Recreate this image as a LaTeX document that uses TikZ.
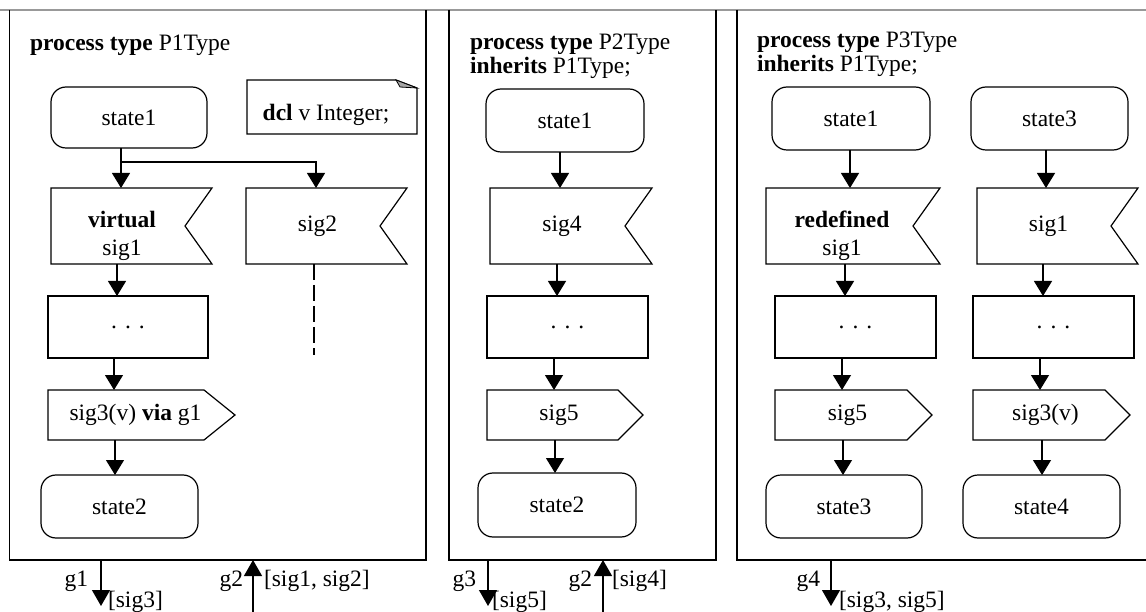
\documentclass[tikz,border=0pt]{standalone}
\usepackage{fontspec}
\setmainfont{Liberation Serif}
\usetikzlibrary{arrows.meta}
\newcommand\insig[1]{\draw[ln] (#1.north west) -- ([xshift=18pt]#1.north east) -- ([xshift=-9pt]#1.east) -- ([xshift=18pt]#1.south east) -- (#1.south west) -- cycle;}
\newcommand\outsig[2]{\draw[ln] (#1.north west) -- ([xshift=#2pt]#1.north east) -- ([xshift=12pt]#1.east) -- ([xshift=#2pt]#1.south east) -- (#1.south west) -- cycle;}
\newcommand\mydots{.\hspace{0.34em}.\hspace{0.34em}.}
\begin{document}
\begin{tikzpicture}[x=1pt,y=-1pt,
  every node/.style={font=\fontsize{23.5}{27}\selectfont, inner sep=0pt, outer sep=0pt},
  ln/.style={line width=1.2pt},
  stt/.style={draw, ln, rounded corners=15pt},
  blk/.style={draw, ln},
  flow/.style={ln, -{Triangle[length=15pt,width=18pt]}},
  gate/.style={ln, -{Triangle[length=16pt,width=18pt]}},
  dsh/.style={ln, dash pattern=on 16pt off 5pt}
]
\useasboundingbox (0,0) rectangle (1146,612);

% frames
\node[minimum width=416.5pt, minimum height=550pt] (f1) at (217.75,285) {};
\node[minimum width=267pt, minimum height=550pt] (f2) at (582.5,285) {};
\node[minimum width=409pt, minimum height=550pt] (f3) at (941.5,285) {};
\draw[ln, black!40] (0,0 |- f1.north) -- (1146,0 |- f1.north);
\draw[ln] (f1.north west) -- (f1.south west) -- (f1.south east) -- (f1.north east);
\draw[ln] (f2.north west) -- (f2.south west) -- (f2.south east) -- (f2.north east);
\draw[ln] (f3.north west) -- (f3.south west) -- (f3.south east);

% ---------- panel 1
\node[anchor=base west] (t1) at (30,51) {\textbf{process type} P1Type};
\node[stt, minimum width=156pt, minimum height=61pt] (s11) at (129,117.5) {state1};
\node[minimum width=158pt, minimum height=54pt, text height=33pt, text depth=5pt] (dcl) at (326,107) {\textbf{dcl} v Integer;};
\draw[ln] (dcl.north west) -- ([xshift=-9pt]dcl.north east) -- ([xshift=12pt,yshift=-8pt]dcl.north east) -- ([xshift=12pt]dcl.south east) -- (dcl.south west) -- cycle;
\filldraw[line width=0.8pt, fill=black!35] ([xshift=-9pt]dcl.north east) -- ([xshift=-5pt,yshift=-7pt]dcl.north east) -- ([xshift=12pt,yshift=-8pt]dcl.north east) -- cycle;

\node[minimum width=143pt, minimum height=76pt] (in11) at (122.5,226) {};
\insig{in11}
\node[anchor=base] (in11a) at (122,228) {\textbf{virtual}};
\node[anchor=base] (in11b) at (122,256) {sig1};
\node[minimum width=143pt, minimum height=76pt] (in12) at (317.5,226) {sig2};
\insig{in12}
\node[blk, minimum width=160pt, minimum height=62pt] (d11) at (128,327) {\mydots};
\node[minimum width=175pt, minimum height=50pt] (o11) at (135.5,415) {sig3(v) \textbf{via} g1};
\outsig{o11}{-19}
\node[stt, minimum width=157pt, minimum height=63pt] (s12) at (119.5,506.5) {state2};

\coordinate (b1) at (121,162);
\coordinate (dd1) at (314,355);
\draw[flow] (121,0 |- s11.south) -- (121,0 |- in11.north);
\draw[flow] (b1) -| (316,0 |- in12.north);
\draw[dsh] (314,0 |- in12.south) -- (dd1);
\draw[flow] (117,0 |- in11.south) -- (117,0 |- d11.north);
\draw[flow] (114,0 |- d11.south) -- (114,0 |- o11.north);
\draw[flow] (115,0 |- o11.south) -- (115,0 |- s12.north);

\coordinate (g1e) at (101,606);
\draw[gate] (101,0 |- f1.south) -- (g1e);
\coordinate (g2s) at (253,616);
\draw[gate] (g2s) -- (253,0 |- f1.south);
\node[anchor=base east] (lg1) at (88,586) {g1};
\node[anchor=base west] (lg1s) at (108,607) {[sig3]};
\node[anchor=base east] (lg2) at (243,586) {g2};
\node[anchor=base west] (lg2s) at (264,586) {[sig1, sig2]};

% ---------- panel 2
\node[anchor=base west] (t2a) at (470,50) {\textbf{process type} P2Type};
\node[anchor=base west] (t2b) at (470,74) {\textbf{inherits} P1Type;};
\node[stt, minimum width=158pt, minimum height=63pt] (s21) at (565,120.5) {state1};
\node[minimum width=144pt, minimum height=76pt] (in21) at (562,226) {sig4};
\insig{in21}
\node[blk, minimum width=161pt, minimum height=62pt] (d21) at (567.5,327) {\mydots};
\node[minimum width=144pt, minimum height=50pt] (o21) at (559,415) {sig5};
\outsig{o21}{-13}
\node[stt, minimum width=158pt, minimum height=64pt] (s22) at (557,505) {state2};

\draw[flow] (560,0 |- s21.south) -- (560,0 |- in21.north);
\draw[flow] (557,0 |- in21.south) -- (557,0 |- d21.north);
\draw[flow] (554,0 |- d21.south) -- (554,0 |- o21.north);
\draw[flow] (555,0 |- o21.south) -- (555,0 |- s22.north);

\coordinate (g3e) at (488,606);
\draw[gate] (488,0 |- f2.south) -- (g3e);
\coordinate (g2bs) at (603,616);
\draw[gate] (g2bs) -- (603,0 |- f2.south);
\node[anchor=base east] (lg3) at (476,586) {g3};
\node[anchor=base west] (lg3s) at (492,607) {[sig5]};
\node[anchor=base east] (lg2b) at (592,586) {g2};
\node[anchor=base west] (lg2bs) at (612,586) {[sig4]};

% ---------- panel 3
\node[anchor=base west] (t3a) at (757,48) {\textbf{process type} P3Type};
\node[anchor=base west] (t3b) at (757,72) {\textbf{inherits} P1Type;};
\node[stt, minimum width=158pt, minimum height=63pt] (s31) at (851,118.5) {state1};
\node[stt, minimum width=157pt, minimum height=63pt] (s32) at (1049.5,118.5) {state3};
\node[minimum width=156pt, minimum height=76pt] (in31) at (844,226) {};
\insig{in31}
\node[anchor=base] (in31a) at (842,228) {\textbf{redefined}};
\node[anchor=base] (in31b) at (842,256) {sig1};
\node[minimum width=143pt, minimum height=76pt] (in32) at (1048.5,226) {sig1};
\insig{in32}
\node[blk, minimum width=161pt, minimum height=62pt] (d31) at (855.5,327) {\mydots};
\node[blk, minimum width=161pt, minimum height=62pt] (d32) at (1053.5,327) {\mydots};
\node[minimum width=145pt, minimum height=50pt] (o31) at (847.5,415) {sig5};
\outsig{o31}{-13}
\node[minimum width=145pt, minimum height=50pt] (o32) at (1045.5,415) {sig3(v)};
\outsig{o32}{-13}
\node[stt, minimum width=156pt, minimum height=63pt] (s33) at (844,506.5) {state3};
\node[stt, minimum width=157pt, minimum height=63pt] (s34) at (1041.5,506.5) {state4};

\draw[flow] (850,0 |- s31.south) -- (850,0 |- in31.north);
\draw[flow] (845,0 |- in31.south) -- (845,0 |- d31.north);
\draw[flow] (842,0 |- d31.south) -- (842,0 |- o31.north);
\draw[flow] (843,0 |- o31.south) -- (843,0 |- s33.north);
\draw[flow] (1046,0 |- s32.south) -- (1046,0 |- in32.north);
\draw[flow] (1043,0 |- in32.south) -- (1043,0 |- d32.north);
\draw[flow] (1040,0 |- d32.south) -- (1040,0 |- o32.north);
\draw[flow] (1042,0 |- o32.south) -- (1042,0 |- s34.north);

\coordinate (g4e) at (831,606);
\draw[gate] (831,0 |- f3.south) -- (g4e);
\node[anchor=base east] (lg4) at (820,586) {g4};
\node[anchor=base west] (lg4s) at (839,607) {[sig3, sig5]};
\end{tikzpicture}
\end{document}
